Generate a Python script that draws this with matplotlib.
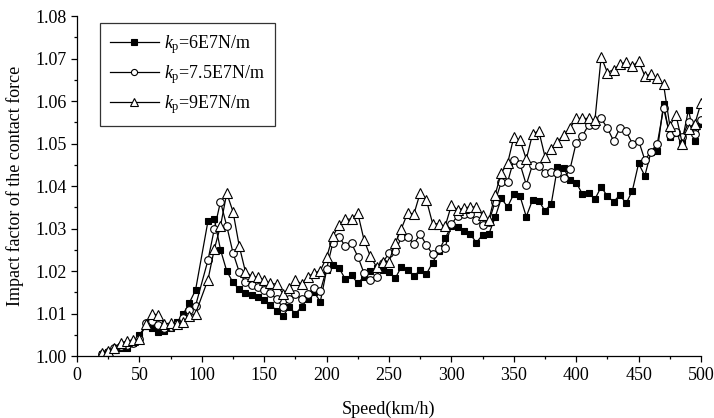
import matplotlib
matplotlib.use("Agg")
import matplotlib.pyplot as plt
from matplotlib.ticker import MultipleLocator, FormatStrFormatter

plt.rcParams['font.family'] = ['Liberation Serif', 'DejaVu Serif']
plt.rcParams['mathtext.fontset'] = 'custom'
plt.rcParams['mathtext.rm'] = 'Liberation Serif'
plt.rcParams['mathtext.it'] = 'Liberation Serif:italic'

# Train speed (km/h)
speed = [20, 25, 30, 35, 40, 45, 50, 55, 60, 65, 70, 75, 80, 85, 90, 95] + list(range(105, 505, 5))

# Impact factor for pantograph stiffness kp = 6E7 N/m
kp_6e7 = [
    1.0005, 1.0010, 1.0015, 1.0020, 1.0020, 1.0030, 1.0050, 1.0070, 1.0065, 1.0057,
    1.0058, 1.0065, 1.0080, 1.0098, 1.0125, 1.0155,
    1.0318, 1.0323, 1.0250, 1.0200, 1.0173, 1.0157, 1.0149, 1.0144, 1.0140, 1.0132,
    1.0120, 1.0107, 1.0093, 1.0116, 1.0099, 1.0116, 1.0135, 1.0150, 1.0128, 1.0202,
    1.0214, 1.0207, 1.0181, 1.0190, 1.0171, 1.0187, 1.0200, 1.0206, 1.0202, 1.0198,
    1.0183, 1.0210, 1.0202, 1.0188, 1.0202, 1.0193, 1.0220, 1.0248, 1.0277, 1.0306,
    1.0304, 1.0295, 1.0287, 1.0267, 1.0285, 1.0287, 1.0326, 1.0371, 1.0351, 1.0381,
    1.0376, 1.0328, 1.0367, 1.0365, 1.0342, 1.0358, 1.0444, 1.0442, 1.0413, 1.0408,
    1.0381, 1.0383, 1.0369, 1.0398, 1.0376, 1.0363, 1.0379, 1.0359, 1.0389, 1.0453,
    1.0424, 1.0481, 1.0483, 1.0593, 1.0516, 1.0524, 1.0507, 1.0580, 1.0507, 1.0546,
]

# Impact factor for kp = 7.5E7 N/m
kp_75e7 = [
    1.0005, 1.0010, 1.0018, 1.0024, 1.0025, 1.0030, 1.0040, 1.0077, 1.0082, 1.0074,
    1.0067, 1.0068, 1.0075, 1.0090, 1.0108, 1.0118,
    1.0226, 1.0298, 1.0363, 1.0306, 1.0243, 1.0198, 1.0173, 1.0167, 1.0162, 1.0155,
    1.0149, 1.0133, 1.0115, 1.0133, 1.0147, 1.0133, 1.0147, 1.0159, 1.0153, 1.0205,
    1.0266, 1.0281, 1.0258, 1.0265, 1.0234, 1.0195, 1.0180, 1.0186, 1.0220, 1.0242,
    1.0246, 1.0280, 1.0280, 1.0264, 1.0287, 1.0261, 1.0239, 1.0251, 1.0255, 1.0310,
    1.0330, 1.0335, 1.0333, 1.0320, 1.0308, 1.0315, 1.0363, 1.0410, 1.0409, 1.0461,
    1.0452, 1.0403, 1.0450, 1.0447, 1.0431, 1.0434, 1.0431, 1.0418, 1.0439, 1.0502,
    1.0518, 1.0544, 1.0544, 1.0559, 1.0536, 1.0506, 1.0536, 1.0529, 1.0500, 1.0507,
    1.0461, 1.0481, 1.0500, 1.0583, 1.0520, 1.0527, 1.0515, 1.0550, 1.0522, 1.0555,
]

# Impact factor for kp = 9E7 N/m
kp_9e7 = [
    1.0008, 1.0012, 1.0020, 1.0031, 1.0035, 1.0038, 1.0040, 1.0075, 1.0100, 1.0096,
    1.0075, 1.0078, 1.0076, 1.0080, 1.0094, 1.0100,
    1.0180, 1.0251, 1.0306, 1.0383, 1.0340, 1.0259, 1.0198, 1.0188, 1.0185, 1.0179,
    1.0171, 1.0169, 1.0147, 1.0159, 1.0179, 1.0169, 1.0187, 1.0195, 1.0201, 1.0232,
    1.0282, 1.0308, 1.0322, 1.0322, 1.0336, 1.0273, 1.0235, 1.0210, 1.0222, 1.0222,
    1.0266, 1.0300, 1.0337, 1.0334, 1.0384, 1.0367, 1.0311, 1.0311, 1.0305, 1.0355,
    1.0344, 1.0348, 1.0351, 1.0350, 1.0332, 1.0320, 1.0379, 1.0431, 1.0453, 1.0515,
    1.0508, 1.0463, 1.0522, 1.0530, 1.0469, 1.0486, 1.0503, 1.0521, 1.0536, 1.0559,
    1.0559, 1.0559, 1.0555, 1.0704, 1.0667, 1.0674, 1.0686, 1.0692, 1.0682, 1.0694,
    1.0659, 1.0663, 1.0653, 1.0639, 1.0542, 1.0567, 1.0500, 1.0534, 1.0545, 1.0596,
]

labels = [r'$\mathit{k}_\mathrm{p}$=6E7N/m',
          r'$\mathit{k}_\mathrm{p}$=7.5E7N/m',
          r'$\mathit{k}_\mathrm{p}$=9E7N/m']

fig = plt.figure(figsize=(7.14, 4.18), dpi=100)
ax = fig.add_axes([0.1078, 0.1483, 0.874, 0.8134])

lw = 0.9
ax.plot(speed, kp_6e7, '-', color='black', lw=lw, marker='s', ms=5,
        mfc='black', mec='black', mew=0.8, label=labels[0])
ax.plot(speed, kp_75e7, '-', color='black', lw=lw, marker='o', ms=5.5,
        mfc='white', mec='black', mew=0.8, label=labels[1])
ax.plot(speed, kp_9e7, '-', color='black', lw=lw, marker='^', ms=6.5,
        mfc='white', mec='black', mew=0.8, label=labels[2])

ax.set_xlim(0, 500)
ax.set_ylim(1.00, 1.08)
ax.xaxis.set_major_locator(MultipleLocator(50))
ax.xaxis.set_minor_locator(MultipleLocator(25))
ax.yaxis.set_major_locator(MultipleLocator(0.01))
ax.yaxis.set_minor_locator(MultipleLocator(0.005))
ax.yaxis.set_major_formatter(FormatStrFormatter('%.2f'))

for side in ('top', 'right'):
    ax.spines[side].set_visible(False)
for side in ('left', 'bottom'):
    ax.spines[side].set_linewidth(0.9)

ax.tick_params(which='major', direction='out', length=4, width=0.9, labelsize=13)
ax.tick_params(which='minor', direction='out', length=2.5, width=0.9)
ax.tick_params(axis='x', which='major', pad=4)

ax.set_xlabel('Speed(km/h)', fontsize=13, labelpad=12)
ax.set_ylabel('Impact factor of the contact force', fontsize=13, labelpad=8)

leg = ax.legend(loc='upper left', bbox_to_anchor=(0.037, 0.979), borderaxespad=0,
                fontsize=13, frameon=True, fancybox=False, edgecolor='black',
                handlelength=2.7, handletextpad=0.3, labelspacing=0.4,
                borderpad=0.55, markerscale=0.8)
leg.get_frame().set_linewidth(0.9)

fig.savefig('out.png', dpi=100)
